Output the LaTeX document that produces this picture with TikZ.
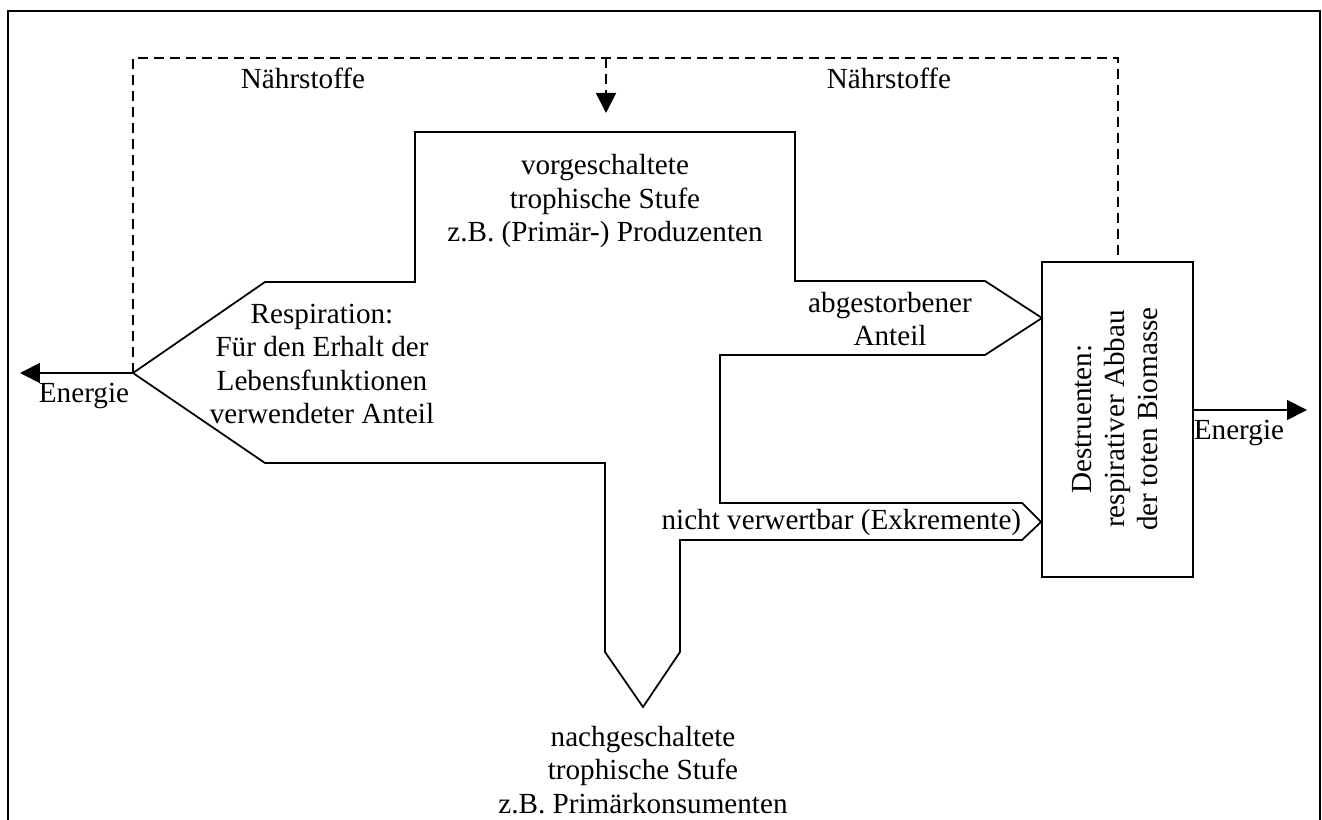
\documentclass[tikz,border=0pt]{standalone}
\usepackage{fontspec}
\setmainfont{Liberation Serif}
\usetikzlibrary{arrows.meta}

\begin{document}
\begin{tikzpicture}[x=0.02cm, y=-0.02cm, line width=1pt,
        txt/.style = {align=center, inner sep=0pt, font=\fontsize{16.6}{19}\selectfont},
        flow/.style = {-{Triangle[length=0.4cm, width=0.4cm]}},
        naehr/.style = {dash pattern=on 5.7pt off 3.4pt}]
    \useasboundingbox (0,0) rectangle (1322,820);
    % frame
    \draw[line width=1.4pt] (8,820) -- (8,11) -- (1320,11) -- (1320,820);

    % points of the flow
    \coordinate (tip) at (133,373);
    \coordinate (ntop) at (606,58);
    \coordinate (nin) at (606,113);
    \coordinate (eleft) at (20,373);
    \coordinate (eright) at (1307,410);

    \node[draw, minimum width=3.02cm, minimum height=6.3cm] (destr) at (1117.5,419.5) {};
    \node[txt, rotate=90] (destrtxt) at (1115,419) {Destruenten:\\respirativer Abbau\\der toten Biomasse};

    % energy flow
    \draw (415,132) -- (795,132) -- (795,281) -- (985,281) -- (1042,318) -- (985,355)
        -- (720,355) -- (720,503) -- (1022,503) -- (1041,522) -- (1022,540) -- (680,540)
        -- (680,652) -- (643,707) -- (605,652) -- (605,463) -- (265,463) -- (tip)
        -- (265,282) -- (415,282) -- cycle;

    % nutrients
    \draw[naehr] (tip) -- (133,58) -- (1118,58) -- (destr.north -| 1118,0);
    \draw[naehr, flow] (ntop) -- (nin);
    \node[txt] (n1) at (303,78) {Nährstoffe};
    \node[txt] (n2) at (889,78) {Nährstoffe};

    % energy out
    \draw[flow] (tip) -- (eleft);
    \draw[flow] (destr.east |- eright) -- (eright);
    \node[txt] (e1) at (84,396) {Energie};
    \node[txt, anchor=west] (e2) at (1193,433) {Energie};

    \node[txt] (vor) at (605,201) {vorgeschaltete\\trophische Stufe\\z.B. (Primär-) Produzenten};
    \node[txt] (resp) at (322,364) {Respiration:\\Für den Erhalt der\\Lebensfunktionen\\verwendeter Anteil};
    \node[txt] (tot) at (890,319) {abgestorbener\\Anteil};
    \node[txt, anchor=east] (exk) at (1022,522) {nicht verwertbar (Exkremente)};
    \node[txt] (nach) at (643,770) {nachgeschaltete\\trophische Stufe\\z.B. Primärkonsumenten};
\end{tikzpicture}
\end{document}
